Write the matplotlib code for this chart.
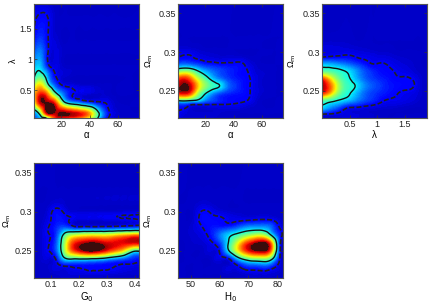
import numpy as np
import matplotlib
matplotlib.use('Agg')
import matplotlib.pyplot as plt
import matplotlib.tri as mtri
from matplotlib.colors import ListedColormap

plt.rcParams['font.family'] = ['Liberation Sans', 'DejaVu Sans']
plt.rcParams['font.size'] = 7

# relative likelihood (0-100), rows listed top -> bottom

# panel 1: alpha vs lambda
alpha_pts = [0, 5, 10, 15, 20, 25, 30, 35, 40, 45, 50, 55, 60, 70, 80]
lam_rows = [1.95, 1.7, 1.5, 1.3, 1.1, 0.9, 0.75, 0.6, 0.45, 0.3, 0.15, 0.05]
L_alpha_lam = [
    [0, 0, 0, 0, 0, 0, 0, 0, 0, 0, 0, 0, 0, 0, 0],
    [3, 6, 5, 1, 0, 0, 0, 0, 0, 0, 0, 0, 0, 0, 0],
    [4, 9, 6, 1, 0, 0, 0, 0, 0, 0, 0, 0, 0, 0, 0],
    [6, 13, 6, 2, 0, 0, 0, 0, 0, 0, 0, 0, 0, 0, 0],
    [12, 20, 6, 2, 1, 0, 0, 0, 0, 0, 0, 0, 0, 0, 0],
    [20, 26, 8, 3, 1, 0, 0, 0, 0, 0, 0, 0, 0, 0, 0],
    [27, 38, 22, 6, 2, 1, 0, 0, 0, 0, 0, 0, 0, 0, 0],
    [40, 62, 36, 14, 4, 2, 1, 0, 0, 0, 0, 0, 0, 0, 0],
    [60, 85, 72, 40, 20, 9, 4, 3, 2, 1, 1, 0, 0, 0, 0],
    [45, 92, 97, 85, 48, 26, 20, 14, 10, 7, 5, 2, 0, 0, 0],
    [22, 50, 100, 98, 95, 90, 85, 78, 65, 38, 15, 4, 1, 0, 0],
    [15, 25, 36, 80, 85, 82, 78, 70, 55, 36, 12, 3, 0, 0, 0],
]

# panel 2: alpha vs Omega_m
om_rows2 = [0.365, 0.32, 0.305, 0.295, 0.285, 0.275, 0.265, 0.256, 0.247,
            0.238, 0.232, 0.222, 0.21]
L_alpha_om = [
    [0, 0, 0, 0, 0, 0, 0, 0, 0, 0, 0, 0, 0, 0, 0],
    [0, 0, 0, 0, 0, 0, 0, 0, 0, 0, 0, 0, 0, 0, 0],
    [1, 1.5, 1, 0.5, 0, 0, 0, 0, 0, 0, 0, 0, 0, 0, 0],
    [4, 5.5, 5, 3, 2, 1.5, 1, 1, 1, 0.5, 0, 0, 0, 0, 0],
    [14, 16, 14, 11, 8, 7, 6, 6, 6, 6, 3, 1, 0, 0, 0],
    [45, 50, 45, 33, 24, 18, 14, 11, 9, 7, 5, 2, 1, 0, 0],
    [80, 88, 75, 55, 40, 28, 20, 14, 10, 8, 6, 3, 1, 0, 0],
    [92, 100, 90, 65, 48, 38, 32, 20, 13, 9, 6, 3, 1, 0, 0],
    [85, 90, 78, 50, 33, 22, 15, 11, 9, 8, 6, 3, 1, 0, 0],
    [38, 40, 36, 30, 20, 14, 10, 8, 7, 6, 5, 2, 0, 0, 0],
    [8, 10, 5, 4.5, 4.5, 4.5, 4.5, 4.5, 4, 3.5, 2, 1, 0, 0, 0],
    [4.5, 2.5, 1.5, 1, 1, 1, 1, 0.5, 0.5, 0, 0, 0, 0, 0, 0],
    [0, 0, 0, 0, 0, 0, 0, 0, 0, 0, 0, 0, 0, 0, 0],
]

# panel 3: lambda vs Omega_m
lam_pts = [0, 0.15, 0.3, 0.45, 0.6, 0.75, 0.9, 1.05, 1.2, 1.35, 1.5, 1.65, 1.8, 1.95]
om_rows3 = [0.365, 0.315, 0.302, 0.292, 0.283, 0.274, 0.265, 0.256, 0.247,
            0.238, 0.229, 0.22, 0.21]
L_lam_om = [
    [0, 0, 0, 0, 0, 0, 0, 0, 0, 0, 0, 0, 0, 0],
    [0.5, 0.5, 0.5, 0.5, 0, 0, 0, 0, 0, 0, 0, 0, 0, 0],
    [2, 2.5, 2.5, 2.5, 2, 1.5, 1, 0.5, 0.5, 0, 0, 0, 0, 0],
    [7, 8, 8, 8, 6, 4.5, 3.5, 3, 2.5, 1.5, 1, 0.5, 0, 0],
    [28, 27, 24, 20, 15, 10, 6, 6, 4.8, 3, 2, 1, 0, 0],
    [45, 42, 37, 32, 24, 16, 11, 8, 6.5, 4.5, 3.5, 2, 0.5, 0],
    [85, 65, 45, 35, 27, 18, 13, 10, 8, 6, 6, 4.5, 1, 0],
    [97, 78, 52, 38, 32, 22, 16, 12, 9, 7.5, 6.5, 5.3, 1, 0],
    [85, 68, 46, 35, 27, 18, 13, 10, 8, 5.5, 4, 3, 1, 0],
    [42, 38, 32, 27, 21, 15, 11, 7, 4.5, 4, 3, 2, 0.5, 0],
    [30, 22, 15, 7, 5.5, 4, 3, 2, 1.5, 1, 0.5, 0, 0, 0],
    [5.5, 4.5, 3.5, 2.5, 2, 1.5, 1, 0.5, 0, 0, 0, 0, 0, 0],
    [1.5, 1, 0.5, 0, 0, 0, 0, 0, 0, 0, 0, 0, 0, 0],
]

# panel 4: G0 vs Omega_m
G_pts = [0.03, 0.06, 0.09, 0.12, 0.15, 0.18, 0.21, 0.24, 0.27, 0.30, 0.33, 0.36, 0.39, 0.42]
om_rows4 = [0.365, 0.33, 0.31, 0.30, 0.29, 0.28, 0.27, 0.26, 0.25, 0.24, 0.23, 0.22, 0.21]
L_G_om = [
    [0, 0, 0, 0, 0, 0, 0, 0, 0, 0, 0, 0, 0, 0],
    [0, 0, 0, 0, 0, 0, 0, 0, 0, 0, 0, 0, 0, 0],
    [0, 0, 0.5, 2, 1, 0.5, 0.5, 0.5, 0.5, 0.5, 0.5, 0.5, 0.5, 0.5],
    [0, 0.5, 2, 7, 3.5, 1.5, 1, 1, 1, 1, 1, 1.5, 1.5, 2],
    [0, 0.5, 3, 8, 7, 3.5, 2.5, 2.5, 2.5, 3, 3.5, 4, 4.5, 5],
    [0, 0.5, 4.6, 10, 14, 8, 7, 7, 7, 7.5, 8, 9, 10, 11],
    [0, 0.5, 4.6, 12, 38, 52, 56, 58, 58, 58, 62, 66, 70, 72],
    [0, 0.5, 4.6, 15, 50, 82, 92, 97, 95, 90, 90, 90, 90, 90],
    [0, 0.5, 4.6, 15, 50, 80, 93, 100, 96, 86, 75, 62, 40, 36],
    [0, 0.5, 2, 7, 30, 35, 36, 35, 33, 28, 22, 17, 11, 8],
    [0, 0, 1, 3, 5, 6, 6.5, 7, 6.5, 6, 5, 4, 3.5, 3],
    [0, 0, 0.5, 1, 1.5, 2, 2, 2.5, 2.5, 2, 1.5, 1, 1, 1],
    [0, 0, 0, 0, 0, 0, 0, 0, 0, 0, 0, 0, 0, 0],
]

# panel 5: H0 vs Omega_m
H_pts = [45, 48, 51, 54, 57, 60, 63, 66, 69, 72, 75, 78, 81, 84]
om_rows5 = [0.365, 0.33, 0.31, 0.30, 0.29, 0.28, 0.27, 0.26, 0.25, 0.24, 0.23, 0.22, 0.21]
L_H_om = [
    [0, 0, 0, 0, 0, 0, 0, 0, 0, 0, 0, 0, 0, 0],
    [0, 0, 0, 0, 0, 0, 0, 0, 0, 0, 0, 0, 0, 0],
    [0, 0, 0.5, 1.5, 1, 0.5, 0, 0, 0, 0, 0, 0, 0, 0],
    [0, 0, 1, 5.5, 4, 2, 1, 0.5, 0.5, 0.5, 0.5, 0.5, 0, 0],
    [0, 0, 1.5, 7, 7, 6, 4, 3.5, 3.5, 4.2, 4.9, 4, 1, 0],
    [0, 0.5, 2, 5, 8, 9, 10, 14, 20, 22, 22, 16, 4, 0],
    [0, 0.5, 1.5, 3, 8, 18, 28, 36, 45, 52, 52, 30, 8, 0],
    [0, 0, 1, 1.5, 4, 12, 32, 55, 78, 92, 99, 70, 7, 0],
    [0, 0, 0, 0.5, 2, 6, 30, 58, 82, 95, 98.5, 72, 6, 0],
    [0, 0, 0, 0, 0.5, 3, 5.2, 24, 40, 48, 50, 38, 4, 0],
    [0, 0, 0, 0, 0, 0.5, 1.5, 4, 10, 12, 14, 10, 2, 0],
    [0, 0, 0, 0, 0, 0, 0.5, 0.5, 1.5, 2, 2, 1.5, 0.5, 0],
    [0, 0, 0, 0, 0, 0, 0, 0, 0, 0, 0, 0, 0, 0],
]

cl_outer = 5    # outer (dashed) contour
cl_inner = 32   # inner (solid) contour
cl_peak = 97.5  # dark spot at the maximum

jet = matplotlib.colormaps['jet']
cmap = ListedColormap(jet(np.linspace(0.062, 1, 256)))
cmap.set_under(cmap(0.0))
cmap.set_over(cmap(1.0))


def panel(ax, xs, ys, rows, xlim, ylim, xt, xtl, yt, ytl, xlabel, ylabel, ylab_x):
    z = np.array(rows, float)[::-1]
    ys = np.array(ys, float)[::-1]
    ny, nx = z.shape
    ii, jj = np.meshgrid(np.arange(nx), np.arange(ny))
    idx = np.arange(nx * ny).reshape(ny, nx)
    a = idx[:-1, :-1].ravel()
    b = idx[:-1, 1:].ravel()
    c = idx[1:, 1:].ravel()
    d = idx[1:, :-1].ravel()
    tris = np.concatenate([np.stack([a, b, c], 1), np.stack([a, c, d], 1)])
    tri = mtri.Triangulation(ii.ravel().astype(float), jj.ravel().astype(float), tris)
    rtri, rz = mtri.UniformTriRefiner(tri).refine_field(z.ravel(), subdiv=3)
    rx = np.interp(rtri.x, np.arange(nx), xs)
    ry = np.interp(rtri.y, np.arange(ny), ys)
    t2 = mtri.Triangulation(rx, ry, rtri.triangles)

    ax.set_facecolor(cmap(0.0))
    ax.tricontourf(t2, rz, levels=np.linspace(0, 100, 101), cmap=cmap, extend='both')
    ax.tricontourf(t2, rz, levels=[cl_peak, 1000], colors=['#3a0c0c'])
    ax.tricontour(t2, rz, levels=[cl_outer], colors='#222222', linewidths=1.2,
                  linestyles=[(0, (3.0, 1.3))])
    ax.tricontour(t2, rz, levels=[cl_inner], colors='#111111', linewidths=1.0)

    ax.set_xlim(xlim)
    ax.set_ylim(ylim)
    ax.set_xticks(xt)
    ax.set_xticklabels(xtl)
    ax.set_yticks(yt)
    ax.set_yticklabels(ytl)
    ax.tick_params(direction='in', length=2, width=0.5, top=True, right=True,
                   labelsize=6.5, pad=1.5, colors='#333333', labelcolor='#222222')
    for s in ax.spines.values():
        s.set_color('#555555')
        s.set_linewidth(0.8)
    ax.set_xlabel(xlabel, fontsize=7, labelpad=1)
    ax.set_ylabel(ylabel, fontsize=6.5)
    ax.yaxis.set_label_coords(ylab_x, 0.5)


fig = plt.figure(figsize=(4.29, 3.05), dpi=100)
W, H = 429.0, 305.0

def box(l, t, r, b):
    return [l / W, 1 - b / H, (r - l) / W, (b - t) / H]

ax1 = fig.add_axes(box(34, 4, 139, 118))
ax2 = fig.add_axes(box(178, 4, 283, 118))
ax3 = fig.add_axes(box(322, 4, 427, 118))
ax4 = fig.add_axes(box(34, 163, 139, 278))
ax5 = fig.add_axes(box(178, 163, 283, 278))

om_ticks = [0.25, 0.3, 0.35]
om_labels = ['0.25', '0.3', '0.35']
om_lim = (0.215, 0.362)
om_label = 'Ω$_\\mathrm{m}$'

panel(ax1, alpha_pts, lam_rows, L_alpha_lam, (0.5, 75), (0.05, 1.9),
      [20, 40, 60], ['20', '40', '60'], [0.5, 1, 1.5], ['0.5', '1', '1.5'],
      'α', 'λ', -0.155)
panel(ax2, alpha_pts, om_rows2, L_alpha_om, (0.5, 75), om_lim,
      [20, 40, 60], ['20', '40', '60'], om_ticks, om_labels, 'α', om_label, -0.22)
panel(ax3, lam_pts, om_rows3, L_lam_om, (0, 1.9), om_lim,
      [0.5, 1, 1.5], ['0.5', '1', '1.5'], om_ticks, om_labels, 'λ', om_label, -0.225)
panel(ax4, G_pts, om_rows4, L_G_om, (0.04, 0.415), om_lim,
      [0.1, 0.2, 0.3, 0.4], ['0.1', '0.2', '0.3', '0.4'], om_ticks, om_labels,
      'G$_0$', om_label, -0.2)
panel(ax5, H_pts, om_rows5, L_H_om, (45.5, 82), om_lim,
      [50, 60, 70, 80], ['50', '60', '70', '80'], om_ticks, om_labels,
      'H$_0$', om_label, -0.23)

fig.savefig('out.png', dpi=100)
